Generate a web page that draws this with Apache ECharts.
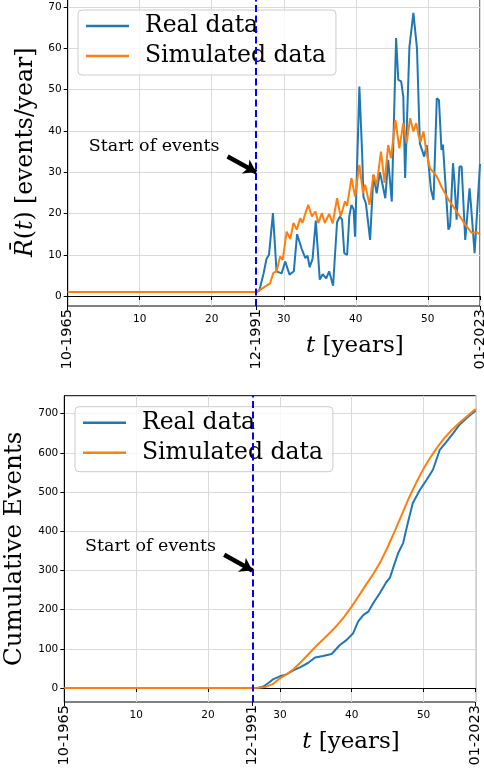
<!DOCTYPE html>
<html>
<head>
<meta charset="utf-8">
<script src="https://cdn.jsdelivr.net/npm/echarts@6/dist/echarts.min.js"></script>
<style>
  html, body { margin: 0; padding: 0; background: #fff; }
  #chart { width: 484px; height: 775px; }
</style>
</head>
<body>
<div id="chart"></div>
<script>
// ---- data ----
const seriesNames = ['Real data', 'Simulated data'];
const startT = 26.17;             // 12-1991, years after 10-1965
const endT = 57.25;               // 01-2023
const dateTickValues = [0, startT, endT];
const dateTickLabels = ['10-1965', '12-1991', '01-2023'];
const yearTicks = [10, 20, 30, 40, 50];
const rateTicks = [0, 10, 20, 30, 40, 50, 60, 70];
const cumTicks = [0, 100, 200, 300, 400, 500, 600, 700];

// rate R(t), real data
const rateRealT = [0, 26.17, 26.6, 27.2, 27.6, 27.95, 28.5, 29.0, 29.7, 30.2, 30.8, 31.4, 31.85, 32.5, 33.0, 33.3, 33.6, 34.0, 34.45,
  35.0, 35.4, 35.9, 36.3, 36.85, 37.4, 37.8, 38.1, 38.4, 38.8, 39.1, 39.4, 39.7, 39.9, 40.5, 40.9, 41.06, 41.4, 41.99,
  42.45, 42.9, 43.35, 43.6, 44.1, 44.5, 45.0, 45.6, 45.9, 46.3, 46.6, 46.85, 47.45, 48.0, 48.5, 48.9, 49.5, 49.85,
  50.45, 50.8, 51.25, 51.55, 51.9, 52.1, 52.86, 53.1, 53.5, 53.7, 54.0, 54.4, 54.7, 55.2, 55.8, 56.0, 56.5, 57.25];
const rateRealV = [1, 1, 1.3, 5.5, 9.0, 10.0, 20.1, 6.0, 5.5, 8.4, 5.2, 6.0, 15.0, 11.4, 9.2, 9.8, 7.0, 9.0, 18.3,
  4.0, 5.3, 4.3, 6.0, 2.5, 17.9, 19.3, 18.5, 10.4, 10.0, 19.3, 22.1, 21.0, 14.4, 50.8, 33.8, 24.1, 22.5, 13.6,
  29.4, 24.9, 30.0, 28.0, 23.7, 33.0, 22.9, 62.5, 52.4, 52.0, 48.3, 28.6, 60.4, 68.6, 60.0, 37.0, 33.8, 36.6,
  25.7, 23.3, 47.9, 47.5, 35.4, 36.7, 16.1, 17.0, 32.2, 28.0, 18.5, 31.4, 31.4, 13.6, 26.1, 22.0, 10.4, 32.0];

// rate R(t), simulated
const rateSimT = [0, 26.17, 26.7, 27.4, 28.1, 28.55, 29.0, 29.5, 29.85, 30.4, 30.9, 31.35, 31.8, 32.3, 32.6, 32.9, 33.4, 33.9,
  34.4, 34.8, 35.3, 35.7, 36.3, 36.8, 37.4, 37.9, 38.5, 38.8, 39.4, 39.9, 40.5, 41.0, 41.3, 41.9, 42.45, 42.9, 43.5,
  44.0, 44.5, 44.9, 45.5, 46.05, 46.6, 47.05, 47.55, 48.0, 48.4, 48.7, 49.0, 49.4, 49.8, 50.3, 51.25, 51.9, 52.9,
  54.0, 55.2, 56.1, 56.8, 57.25];
const rateSimV = [1, 1, 1.5, 2.3, 3.1, 5.6, 6.0, 9.6, 8.8, 15.6, 13.8, 17.7, 16.1, 18.9, 17.7, 19.5, 22.1, 19.3,
  20.5, 17.7, 20.1, 17.7, 19.9, 17.6, 23.7, 19.3, 22.9, 21.9, 28.6, 24.1, 31.8, 25.0, 27.0, 22.1, 29.4, 26.9, 35.0,
  27.4, 36.6, 33.4, 42.7, 35.8, 41.9, 37.0, 43.1, 39.9, 41.9, 39.0, 37.4, 39.9, 35.0, 31.0, 29.0, 26.5, 23.3,
  20.5, 17.3, 15.3, 15.5, 14.8];

// cumulative events, real data
const cumRealT = [0, 26.17, 27.0, 27.7, 28.4, 29.1, 30.0, 30.9, 31.85, 32.8, 33.9, 34.9, 36.0, 37.2, 38.35, 39.3, 40.2,
  40.9, 41.6, 42.3, 43.0, 43.9, 44.8, 45.3, 45.75, 46.45, 47.15, 47.8, 48.5, 49.5, 50.4, 51.3, 52.25, 53.2, 54.1,
  55.0, 56.0, 57.25];
const cumRealV = [0, 0, 1, 4, 13, 23, 30, 35, 45, 53, 64, 78, 82, 87, 110, 123, 140,
  170, 186, 195, 217, 242, 270, 281, 306, 344, 370, 421, 472, 506, 531, 557, 608, 629, 650,
  672, 689, 708];

// cumulative events, simulated
const cumSimT = [0, 26.17, 27, 28, 29, 30, 31, 32, 33, 34, 35, 36, 37, 38, 39, 40, 41, 42, 43, 44, 45, 46, 47, 48,
  49, 50, 51, 52, 53, 54, 55, 56, 57.25];
const cumSimV = [0, 0, 0.8, 3, 10, 25, 36, 50, 68, 87, 106, 124, 142, 161, 183, 208, 236, 264, 291, 322, 360, 401, 444, 487,
  525, 560, 590, 617, 640, 660, 677, 693, 712];

// annotation anchors (data space)
const rateArrowTail = [22.2, 33.8];
const rateArrowHead = [startT, 30];
const rateNote = [12.0, 36.2];
const cumArrowTail = [22.25, 340];
const cumArrowHead = [startT, 300];
const cumNote = [12.0, 361];
const noteText = 'Start of events';

// ---- helpers ----
const zip = (ts, vs) => ts.map((t, i) => [t, vs[i]]);
const BLUE = '#1f77b4', ORANGE = '#ff7f0e';
const serif = 'DejaVu Serif';
const sans = 'DejaVu Sans';
const GRIDC = '#dadada';

function yearAxis(gridIndex, name) {
  return {
    type: 'value', gridIndex, min: 0, max: endT, interval: 10,
    axisLine: { show: true, lineStyle: { color: '#000', width: 1 } },
    axisTick: { show: true, inside: false, length: 4, lineStyle: { color: '#000' } },
    axisLabel: { show: true, margin: 8, fontFamily: sans, fontSize: 10.5, color: '#000',
      formatter: v => (yearTicks.indexOf(v) >= 0 ? String(v) : '') },
    splitLine: { show: true, lineStyle: { color: GRIDC, width: 1 } },
    name: name, nameLocation: 'middle', nameGap: 29,
    nameTextStyle: { fontFamily: serif, fontSize: 23, color: '#000', padding: [0, 0, 0, 162],
      rich: { i: { fontFamily: serif, fontSize: 23, fontStyle: 'italic', color: '#000' } } }
  };
}
function dateAxis(gridIndex) {
  return {
    type: 'value', gridIndex, min: 0, max: endT, position: 'bottom',
    axisLine: { show: false },
    axisTick: { show: true, length: 4, customValues: dateTickValues, lineStyle: { color: '#000' } },
    axisLabel: { show: true, rotate: 90, margin: 3, customValues: dateTickValues,
      fontFamily: sans, fontSize: 14.5, color: '#000',
      formatter: v => { const k = dateTickValues.indexOf(v); return k >= 0 ? dateTickLabels[k] : ''; } },
    splitLine: { show: false }
  };
}
function valueAxis(gridIndex, min, max, ticks, name, fontSize, gap) {
  return {
    type: 'value', gridIndex, min, max,
    axisLine: { show: true, lineStyle: { color: '#000', width: 1 } },
    axisTick: { show: true, length: 4, customValues: ticks, lineStyle: { color: '#000' } },
    axisLabel: { show: true, margin: 6, customValues: ticks, fontFamily: sans, fontSize: 10.5, color: '#000' },
    splitLine: { show: true, lineStyle: { color: GRIDC, width: 1 } },
    name, nameLocation: 'middle', nameGap: gap,
    nameTextStyle: { fontFamily: serif, fontSize, color: '#000',
      rich: { i: { fontFamily: serif, fontSize, fontStyle: 'italic', color: '#000' } } }
  };
}
function legendAt(left, top) {
  return {
    data: seriesNames, orient: 'vertical', left, top,
    icon: 'rect', itemWidth: 43, itemHeight: 2.4, itemGap: 6,
    padding: [4, 10, 7, 8],
    backgroundColor: 'rgba(255,255,255,0.8)', borderColor: '#cccccc', borderWidth: 1, borderRadius: 4,
    textStyle: { fontFamily: serif, fontSize: 23.5, color: '#000', padding: [0, 0, 0, 11] },
    selectedMode: false
  };
}
function noteMarks(tail, head, note) {
  return {
    markLine: {
      silent: true, animation: false,
      lineStyle: { color: '#000', width: 4.5, type: 'solid' },
      label: { show: false },
      symbol: ['none', 'arrow'], symbolSize: [12, 12],
      data: [[{ coord: tail, symbol: 'none' }, { coord: head, symbol: 'arrow' }]]
    },
    markPoint: {
      silent: true, animation: false, symbol: 'circle', symbolSize: 0,
      label: { show: true, position: 'inside', fontFamily: serif, fontSize: 17.5, color: '#000', formatter: noteText },
      data: [{ coord: note }]
    }
  };
}
const startLine = {
  silent: true, animation: false, symbol: ['none', 'none'],
  lineStyle: { color: '#0000ff', width: 2, type: [7, 3.5] },
  label: { show: false },
  data: [{ xAxis: startT }]
};

const option = {
  animation: false,
  backgroundColor: '#fff',
  grid: [
    { left: 67.7, right: 4, top: -1.5, bottom: 469, show: true, borderColor: '#000', borderWidth: 1, outerBoundsMode: 'none' },
    { left: 64.3, right: 8.3, top: 395.7, bottom: 73, show: true, borderColor: '#000', borderWidth: 1, outerBoundsMode: 'none' }
  ],
  xAxis: [
    yearAxis(0, '{i|t} [years]'), dateAxis(0),
    yearAxis(1, '{i|t} [years]'), dateAxis(1)
  ],
  yAxis: [
    valueAxis(0, -2.4, 72.1, rateTicks, '{i|R\u0304}({i|t}) [events/year]', 23.5, 28),
    valueAxis(1, -35.5, 746, cumTicks, 'Cumulative Events', 24.5, 33)
  ],
  legend: [legendAt(78, 10), legendAt(75, 406.7)],
  series: [
    { name: seriesNames[0], type: 'line', xAxisIndex: 0, yAxisIndex: 0, data: zip(rateRealT, rateRealV),
      showSymbol: false, lineStyle: { color: BLUE, width: 2 }, itemStyle: { color: BLUE }, z: 2 },
    Object.assign({ name: seriesNames[1], type: 'line', xAxisIndex: 0, yAxisIndex: 0, data: zip(rateSimT, rateSimV),
      showSymbol: false, lineStyle: { color: ORANGE, width: 2 }, itemStyle: { color: ORANGE }, z: 3 },
      noteMarks(rateArrowTail, rateArrowHead, rateNote)),
    { name: seriesNames[0], type: 'line', xAxisIndex: 2, yAxisIndex: 1, data: zip(cumRealT, cumRealV),
      showSymbol: false, lineStyle: { color: BLUE, width: 2 }, itemStyle: { color: BLUE }, z: 2,
      markLine: startLine },
    Object.assign({ name: seriesNames[1], type: 'line', xAxisIndex: 2, yAxisIndex: 1, data: zip(cumSimT, cumSimV),
      showSymbol: false, lineStyle: { color: ORANGE, width: 2 }, itemStyle: { color: ORANGE }, z: 3 },
      noteMarks(cumArrowTail, cumArrowHead, cumNote))
  ]
};
// the dashed start marker on the rate chart is carried by the real-data series
option.series[0].markLine = startLine;

const chart = echarts.init(document.getElementById('chart'), null, { renderer: 'canvas' });
chart.setOption(option);
</script>
</body>
</html>
